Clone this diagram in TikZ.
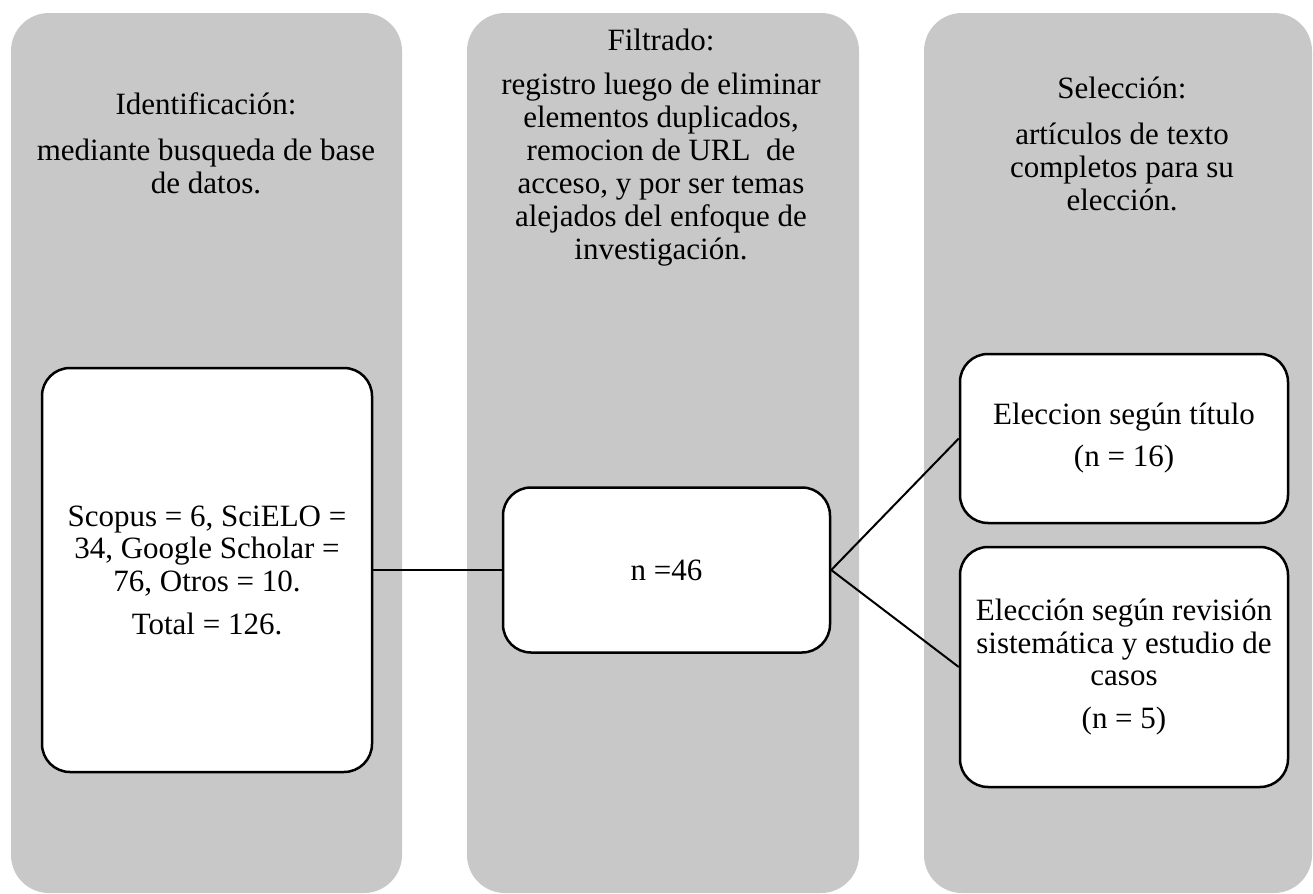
\documentclass[tikz,border=0pt]{standalone}
\usepackage{fontspec}
\setmainfont{Liberation Serif}
\usepackage{tikz}
\usetikzlibrary{backgrounds}
\usetikzlibrary{positioning}
\definecolor{panelgray}{RGB}{200,200,200}

\begin{document}
\begin{tikzpicture}[
            x = 0.5pt, y = -0.5pt, % one unit = one pixel of the layout
            auto,
            semithick % line style
        ]

        \tikzstyle{stage}=[
            draw = black,
            line width = 1.25pt,
            fill = white,
            rounded corners = 14pt,
            inner sep = 0pt,
            align = center,
            font = \fontsize{15.5}{16.25}\selectfont
        ]
        \tikzstyle{column}=[
            fill = panelgray,
            rounded corners = 19pt,
            minimum height = 440pt,
            inner sep = 0pt
        ]
        \tikzstyle{heading}=[
            align = center,
            inner sep = 0pt,
            font = \fontsize{15.5}{16.5}\selectfont
        ]

        \useasboundingbox (0,0) rectangle (1313,894);

        % headings
        \node[heading] (IDT) at (206,143.5) {Identificación:\\[6.5pt]mediante busqueda de base\\de datos.};
        \node[heading] (FIT) at (661,147.5) {Filtrado:\\[5.5pt]registro luego de eliminar\\elementos duplicados,\\remocion de URL\ \ de\\acceso, y por ser temas\\alejados del enfoque de\\investigación.};
        \node[heading] (SET) at (1122,143.5) {Selección:\\[6.5pt]artículos de texto\\completos para su\\elección.};

        % records
        \node[stage, minimum width=165pt, minimum height=202pt] (ID) at (207,570) {Scopus = 6, SciELO =\\34, Google Scholar =\\76, Otros = 10.\\[5.25pt]Total = 126.};
        \node[stage, minimum width=163.5pt, minimum height=82.5pt] (FI) at (666.5,570) {n =46};

        % selection
        \node[stage, minimum width=164pt, minimum height=84.5pt] (TI) at (1124,438.5) {Eleccion según título\\[4.75pt](n = 16)};
        \node[stage, minimum width=164pt, minimum height=120pt] (RS) at (1124,667) {Elección según revisión\\sistemática y estudio de\\casos\\[5pt](n = 5)};

        \path[line width=1pt] (ID) edge node {} (FI);
        \path[line width=1pt] (FI.east) edge node {} (TI.west);
        \path[line width=1pt] (FI.east) edge node {} (RS.west);

        \begin{scope}[on background layer]
          \node[column, minimum width=195.5pt] (IDC) at (206.5,453) {};
          \node[column, minimum width=196pt] (FIC) at (663,453) {};
          \node[column, minimum width=194pt] (SEC) at (1118,453) {};
        \end{scope}

\end{tikzpicture}
\end{document}
